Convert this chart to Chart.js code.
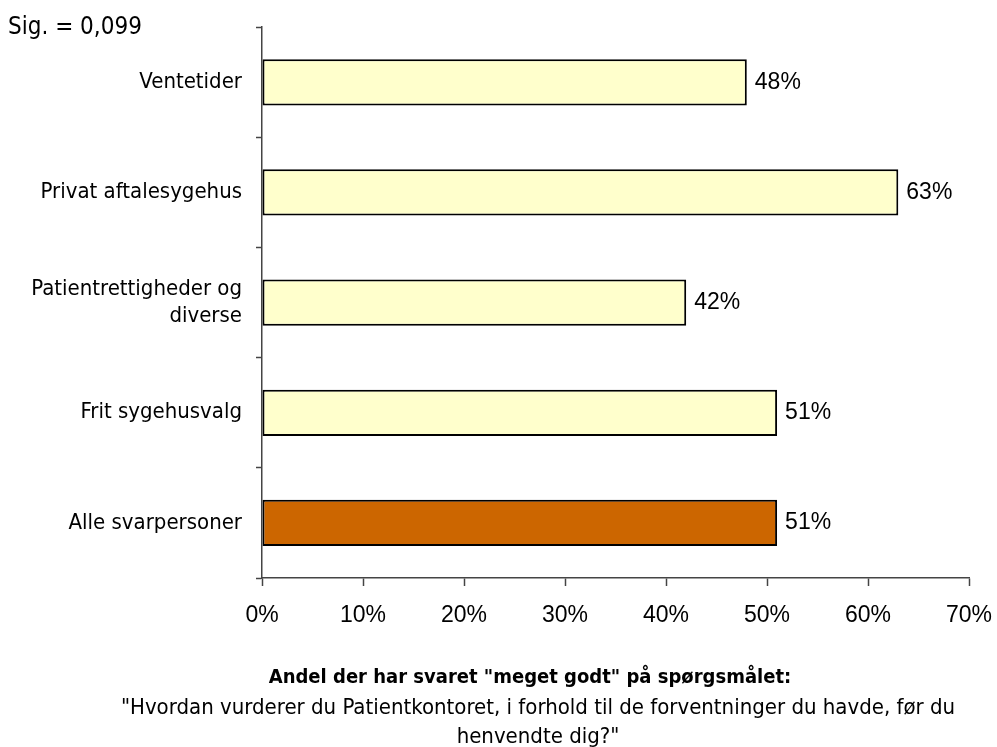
<!DOCTYPE html>
<html>
<head>
<meta charset="utf-8">
<script src="https://cdn.jsdelivr.net/npm/chart.js@4"></script>
<style>
  html, body { margin: 0; padding: 0; background: #fff; }
  #wrap { width: 997px; height: 747px; }
</style>
</head>
<body>
<div id="wrap"><canvas id="chart" width="997" height="747"></canvas></div>
<script>
const categories = ['Ventetider', 'Privat aftalesygehus', ['Patientrettigheder og', 'diverse'], 'Frit sygehusvalg', 'Alle svarpersoner'];
const values = [48, 63, 42, 51, 51];
const barColors = ['#FFFFCC', '#FFFFCC', '#FFFFCC', '#FFFFCC', '#CC6600'];
const xTicks = [0, 10, 20, 30, 40, 50, 60, 70];
const sigText = 'Sig. = 0,099';
const footerBold = 'Andel der har svaret "meget godt" på spørgsmålet:';
const footerLines = ['"Hvordan vurderer du Patientkontoret, i forhold til de forventninger du havde, før du', 'henvendte dig?"'];

const narrow = "'DejaVu Sans Condensed', sans-serif";
const arial = "'Liberation Sans', Arial, sans-serif";

// value labels at bar ends plus the loose text around the plot
const textPlugin = {
  id: 'texts',
  afterDatasetsDraw(chart) {
    const ctx = chart.ctx;
    const meta = chart.getDatasetMeta(0);
    ctx.save();
    ctx.fillStyle = '#000';
    ctx.font = '23px ' + arial;
    ctx.textAlign = 'left';
    ctx.textBaseline = 'middle';
    meta.data.forEach((bar, i) => {
      ctx.fillText(values[i] + '%', bar.x + 8, bar.y);
    });

    ctx.font = '24px ' + narrow;
    ctx.textBaseline = 'alphabetic';
    ctx.fillText(sigText, 8, 34);

    ctx.textAlign = 'center';
    ctx.font = 'bold 20px ' + narrow;
    ctx.fillText(footerBold, 530, 683);
    ctx.font = '22px ' + narrow;
    ctx.fillText(footerLines[0], 538, 714);
    ctx.fillText(footerLines[1], 538, 743);
    ctx.restore();
  }
};

new Chart(document.getElementById('chart').getContext('2d'), {
  type: 'bar',
  data: {
    labels: categories,
    datasets: [{
      data: values,
      backgroundColor: barColors,
      borderColor: '#000',
      borderWidth: 2,
      borderSkipped: false,
      barPercentage: 0.42,
      categoryPercentage: 1
    }]
  },
  options: {
    indexAxis: 'y',
    responsive: false,
    animation: false,
    layout: { padding: { top: 20, right: 0, left: 0, bottom: 0 } },
    plugins: {
      legend: { display: false },
      tooltip: { enabled: false }
    },
    scales: {
      x: {
        min: 0,
        max: 70,
        afterBuildTicks: (scale) => { scale.ticks = xTicks.map(v => ({ value: v })); },
        afterFit: (scale) => {
          scale.height = 169;
          scale.paddingRight = 28;
        },
        border: { color: '#444', width: 1.5 },
        grid: { drawOnChartArea: false, tickLength: 8, tickColor: '#444', tickWidth: 1.5 },
        ticks: {
          padding: 16,
          color: '#000',
          font: { family: arial, size: 23 },
          callback: (v) => v + '%'
        }
      },
      y: {
        afterFit: (scale) => { scale.width = 262; },
        border: { color: '#444', width: 1.5 },
        grid: { offset: true, drawOnChartArea: false, tickLength: 6, tickColor: '#444', tickWidth: 1.5 },
        ticks: {
          padding: 14,
          color: '#000',
          font: { family: narrow, size: 22 }
        }
      }
    }
  },
  plugins: [textPlugin]
});
</script>
</body>
</html>
